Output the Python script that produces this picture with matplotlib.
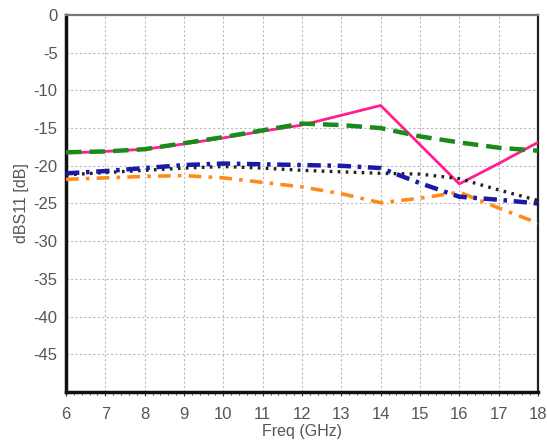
import matplotlib
matplotlib.use("Agg")
import matplotlib.pyplot as plt
from matplotlib.ticker import MultipleLocator

freq = [6, 7, 8, 9, 10, 11, 12, 13, 14, 15, 16, 17, 18]
pink = [-18.3, -18.1, -17.8, -17.1, -16.3, -15.4, -14.6, -13.3, -12.0, -17.2, -22.4, -19.7, -16.9]
green = [-18.2, -18.1, -17.8, -17.0, -16.2, -15.3, -14.4, -14.6, -15.0, -16.1, -16.9, -17.6, -18.0]
blue = [-21.0, -20.7, -20.3, -19.9, -19.7, -19.8, -19.9, -20.0, -20.3, -22.3, -24.1, -24.5, -25.0]
black = [-21.2, -20.9, -20.6, -20.3, -20.1, -20.3, -20.6, -20.8, -21.0, -21.1, -21.7, -23.2, -24.6]
orange = [-21.8, -21.6, -21.4, -21.3, -21.6, -22.2, -22.8, -23.7, -24.9, -24.3, -23.5, -25.6, -27.6]

xticks = list(range(6, 19))
yticks = [0, -5, -10, -15, -20, -25, -30, -35, -40, -45]

plt.rcParams['font.family'] = ['Liberation Sans', 'DejaVu Sans']
plt.rcParams['axes.unicode_minus'] = False
fig = plt.figure(figsize=(5.47, 4.41), dpi=100)
ax = fig.add_axes([0.1207, 0.1111, 0.8628, 0.8549])

ax.plot(freq, pink, color='#ff1f8f', lw=2.0, ls='-', zorder=3)
ax.plot(freq, green, color='#1a8a1a', lw=3.2, ls=(0, (3.5, 1.8)), zorder=4)
ax.plot(freq, black, color='#222222', lw=2.4, ls=(0, (0.8, 1.6)), zorder=3)
ax.plot(freq, blue, color='#1a1aa8', lw=3.2, ls=(0, (3, 1.5, 0.8, 1.5)), zorder=4)
ax.plot(freq, orange, color='#ff8c1a', lw=2.6, ls=(0, (3.5, 2, 1, 2)), zorder=3)

ax.set_xlim(6, 18)
ax.set_ylim(-50, 0)
ax.set_xticks(xticks)
ax.set_yticks(yticks)
ax.xaxis.set_minor_locator(MultipleLocator(0.2))
ax.grid(True, which='major', color='#bbbbbb', ls=(0, (2, 2)), lw=0.8)
ax.tick_params(axis='both', which='major', labelsize=12, labelcolor='#555555')
ax.tick_params(axis='y', length=0, pad=6)
ax.tick_params(axis='x', which='major', length=3, color='#333333', pad=8)
ax.tick_params(axis='x', which='minor', length=2, color='#333333')

for s in ['left', 'bottom']:
    ax.spines[s].set_linewidth(2.5)
    ax.spines[s].set_color('#111111')
for s in ['top', 'right']:
    ax.spines[s].set_linewidth(1.6)
    ax.spines[s].set_color('#777777')
ax.spines['right'].set_color('#222222')

ax.set_xlabel('Freq (GHz)', fontsize=11.5, color='#555555', labelpad=1)
ax.set_ylabel('dBS11 [dB]', fontsize=11.5, color='#555555', labelpad=3)

fig.savefig('out.png', dpi=100, facecolor='white')
